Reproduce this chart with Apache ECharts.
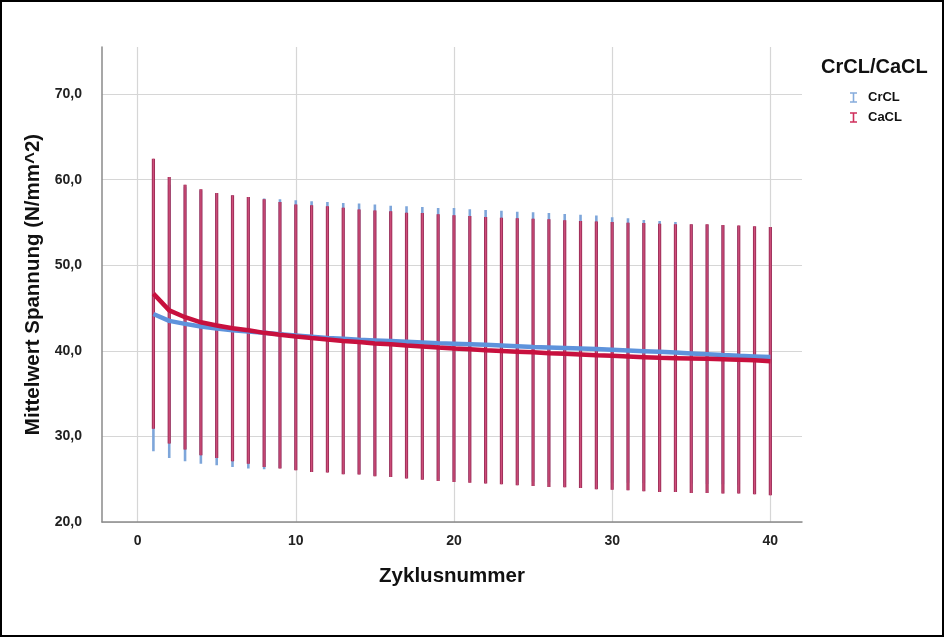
<!DOCTYPE html>
<html>
<head>
<meta charset="utf-8">
<script src="https://cdn.jsdelivr.net/npm/echarts@6/dist/echarts.min.js"></script>
<style>
  html, body { margin: 0; padding: 0; background: #fff; }
  #chart { width: 944px; height: 637px; }
</style>
</head>
<body>
<div id="chart"></div>
<script>
// Zyklusnummer 1..40
const cycles = [1,2,3,4,5,6,7,8,9,10,11,12,13,14,15,16,17,18,19,20,
                21,22,23,24,25,26,27,28,29,30,31,32,33,34,35,36,37,38,39,40];

// CrCL: Mittelwert und Fehlerbalken (untere / obere Grenze)
const crclMean = [44.3,43.5,43.15,42.85,42.6,42.4,42.25,42.1,41.95,41.8,
                  41.65,41.5,41.4,41.3,41.22,41.14,41.06,40.98,40.9,40.84,
                  40.78,40.7,40.62,40.54,40.46,40.4,40.34,40.28,40.2,40.12,
                  40.04,39.96,39.88,39.8,39.7,39.6,39.5,39.42,39.35,39.28];
const crclLow  = [28.26,27.48,27.09,26.82,26.62,26.43,26.24,26.16,26.3,26.1,
                  25.9,25.85,25.65,25.6,25.45,25.35,25.2,25.1,25.0,24.95,
                  24.9,24.8,24.75,24.7,24.7,24.65,24.6,24.6,24.55,24.6,
                  24.6,24.55,24.55,24.5,24.5,24.45,24.4,24.35,24.3,24.2];
const crclHigh = [60.3,59.4,59.1,58.7,58.4,58.15,57.95,57.8,57.7,57.58,
                  57.47,57.38,57.27,57.2,57.1,56.96,56.88,56.8,56.7,56.7,
                  56.53,56.45,56.38,56.26,56.18,56.1,56.0,55.9,55.8,55.6,
                  55.5,55.3,55.17,55.05,54.75,54.7,54.6,54.5,54.45,54.4];

// CaCL: Mittelwert und Fehlerbalken (untere / obere Grenze)
const caclMean = [46.68,44.73,43.93,43.33,42.96,42.63,42.4,42.1,41.88,41.68,
                  41.5,41.33,41.15,41.02,40.87,40.76,40.62,40.51,40.38,40.26,
                  40.18,40.06,39.98,39.9,39.82,39.73,39.65,39.57,39.48,39.42,
                  39.34,39.26,39.18,39.14,39.1,39.06,39.01,38.96,38.9,38.79];
const caclLow  = [30.9,29.16,28.46,27.79,27.48,27.09,26.82,26.43,26.24,26.04,
                  25.84,25.77,25.57,25.54,25.34,25.26,25.07,24.95,24.79,24.68,
                  24.6,24.49,24.4,24.29,24.2,24.09,24.05,23.97,23.82,23.78,
                  23.7,23.58,23.5,23.5,23.39,23.39,23.32,23.32,23.24,23.12];
const caclHigh = [62.45,60.3,59.4,58.87,58.44,58.17,57.97,57.7,57.38,57.1,
                  57.0,56.88,56.72,56.5,56.4,56.3,56.14,56.1,55.95,55.83,
                  55.75,55.63,55.56,55.5,55.44,55.36,55.25,55.17,55.1,55.05,
                  54.97,54.93,54.86,54.78,54.8,54.78,54.7,54.63,54.55,54.46];

// Achsenbeschriftung
const xTicks = [0, 10, 20, 30, 40];
const yTicks = [20, 30, 40, 50, 60, 70];

const FONT = '"Liberation Sans", Arial, sans-serif';
const I_BEAM = 'path://M0,0H8V1.6H4.9V10.4H8V12H0V10.4H3.1V1.6H0Z';

function barData(lows, highs) {
  return cycles.map((c, i) => [c, lows[i], highs[i]]);
}

// Vertikaler Fehlerbalken: dunkler Rand, hellerer Kern
function errorBar(edge, core, wEdge, wCore) {
  return function (params, api) {
    const top = api.coord([api.value(0), api.value(2)]);
    const bot = api.coord([api.value(0), api.value(1)]);
    const shape = { x1: top[0], y1: top[1], x2: bot[0], y2: bot[1] };
    const children = [{ type: 'line', shape, style: { stroke: edge, lineWidth: wEdge } }];
    if (core) children.push({ type: 'line', shape, style: { stroke: core, lineWidth: wCore } });
    return { type: 'group', children };
  };
}

const chart = echarts.init(document.getElementById('chart'), null, { renderer: 'canvas' });

chart.setOption({
  backgroundColor: '#fff',
  animation: false,
  title: {
    text: 'CrCL/CaCL',
    left: 816, top: 52,
    textStyle: { fontFamily: FONT, fontWeight: 'bold', fontSize: 20, color: '#111' }
  },
  legend: {
    orient: 'vertical',
    left: 845, top: 86,
    itemWidth: 7, itemHeight: 11, itemGap: 7,
    selectedMode: false,
    textStyle: { fontFamily: FONT, fontWeight: 'bold', fontSize: 13, color: '#111', padding: [0, 0, 0, 6] },
    data: [
      { name: 'CrCL', icon: I_BEAM, itemStyle: { color: '#86acdc' } },
      { name: 'CaCL', icon: I_BEAM, itemStyle: { color: '#cf2f5c' } }
    ]
  },
  graphic: [{
    type: 'rect', silent: true, z: 100,
    shape: { x: 1, y: 1, width: 942, height: 635 },
    style: { fill: 'none', stroke: '#000', lineWidth: 2 }
  }],
  grid: { left: 102, right: 142, top: 47, bottom: 115 },
  xAxis: {
    type: 'value', min: -2.25, max: 42,
    name: 'Zyklusnummer', nameLocation: 'middle', nameGap: 44,
    nameTextStyle: { fontFamily: FONT, fontWeight: 'bold', fontSize: 20.5, color: '#111' },
    axisLine: { show: true, onZero: false, lineStyle: { color: '#8a8a8a', width: 1.5 } },
    axisTick: { show: false, customValues: xTicks },
    axisLabel: {
      customValues: xTicks, margin: 12,
      fontFamily: FONT, fontWeight: 'bold', fontSize: 14, color: '#222',
      formatter: v => String(v)
    },
    splitLine: { show: true, lineStyle: { color: '#d6d6d6', width: 1.2 } }
  },
  yAxis: {
    type: 'value', min: 20, max: 75.5,
    name: 'Mittelwert Spannung (N/mm^2)', nameLocation: 'middle', nameGap: 52, nameRotate: 90,
    nameTextStyle: { fontFamily: FONT, fontWeight: 'bold', fontSize: 20.5, color: '#111' },
    axisLine: { show: true, onZero: false, lineStyle: { color: '#8a8a8a', width: 1.5 } },
    axisTick: { show: false, customValues: yTicks },
    axisLabel: {
      customValues: yTicks, margin: 20,
      fontFamily: FONT, fontWeight: 'bold', fontSize: 14, color: '#222',
      formatter: v => v.toFixed(1).replace('.', ',')
    },
    splitLine: { show: true, lineStyle: { color: '#d6d6d6', width: 1.2 } }
  },
  series: [
    {
      name: 'CrCL', type: 'custom', z: 2,
      itemStyle: { color: '#86acdc' },
      renderItem: errorBar('#7ea6da', null, 2.6, 0),
      encode: { x: 0, y: [1, 2] },
      data: barData(crclLow, crclHigh)
    },
    {
      name: 'CaCL', type: 'custom', z: 3,
      itemStyle: { color: '#cf2f5c' },
      renderItem: errorBar('#a0305a', '#cf4f7b', 3.2, 1.2),
      encode: { x: 0, y: [1, 2] },
      data: barData(caclLow, caclHigh)
    },
    {
      name: 'CrCL', type: 'line', z: 4,
      showSymbol: false, symbol: 'none',
      lineStyle: { color: '#5e93dc', width: 4.5 },
      itemStyle: { color: '#86acdc' },
      data: cycles.map((c, i) => [c, crclMean[i]])
    },
    {
      name: 'CaCL', type: 'line', z: 5,
      showSymbol: false, symbol: 'none',
      lineStyle: { color: '#c8103e', width: 4.5 },
      itemStyle: { color: '#cf2f5c' },
      data: cycles.map((c, i) => [c, caclMean[i]])
    }
  ]
});
</script>
</body>
</html>
